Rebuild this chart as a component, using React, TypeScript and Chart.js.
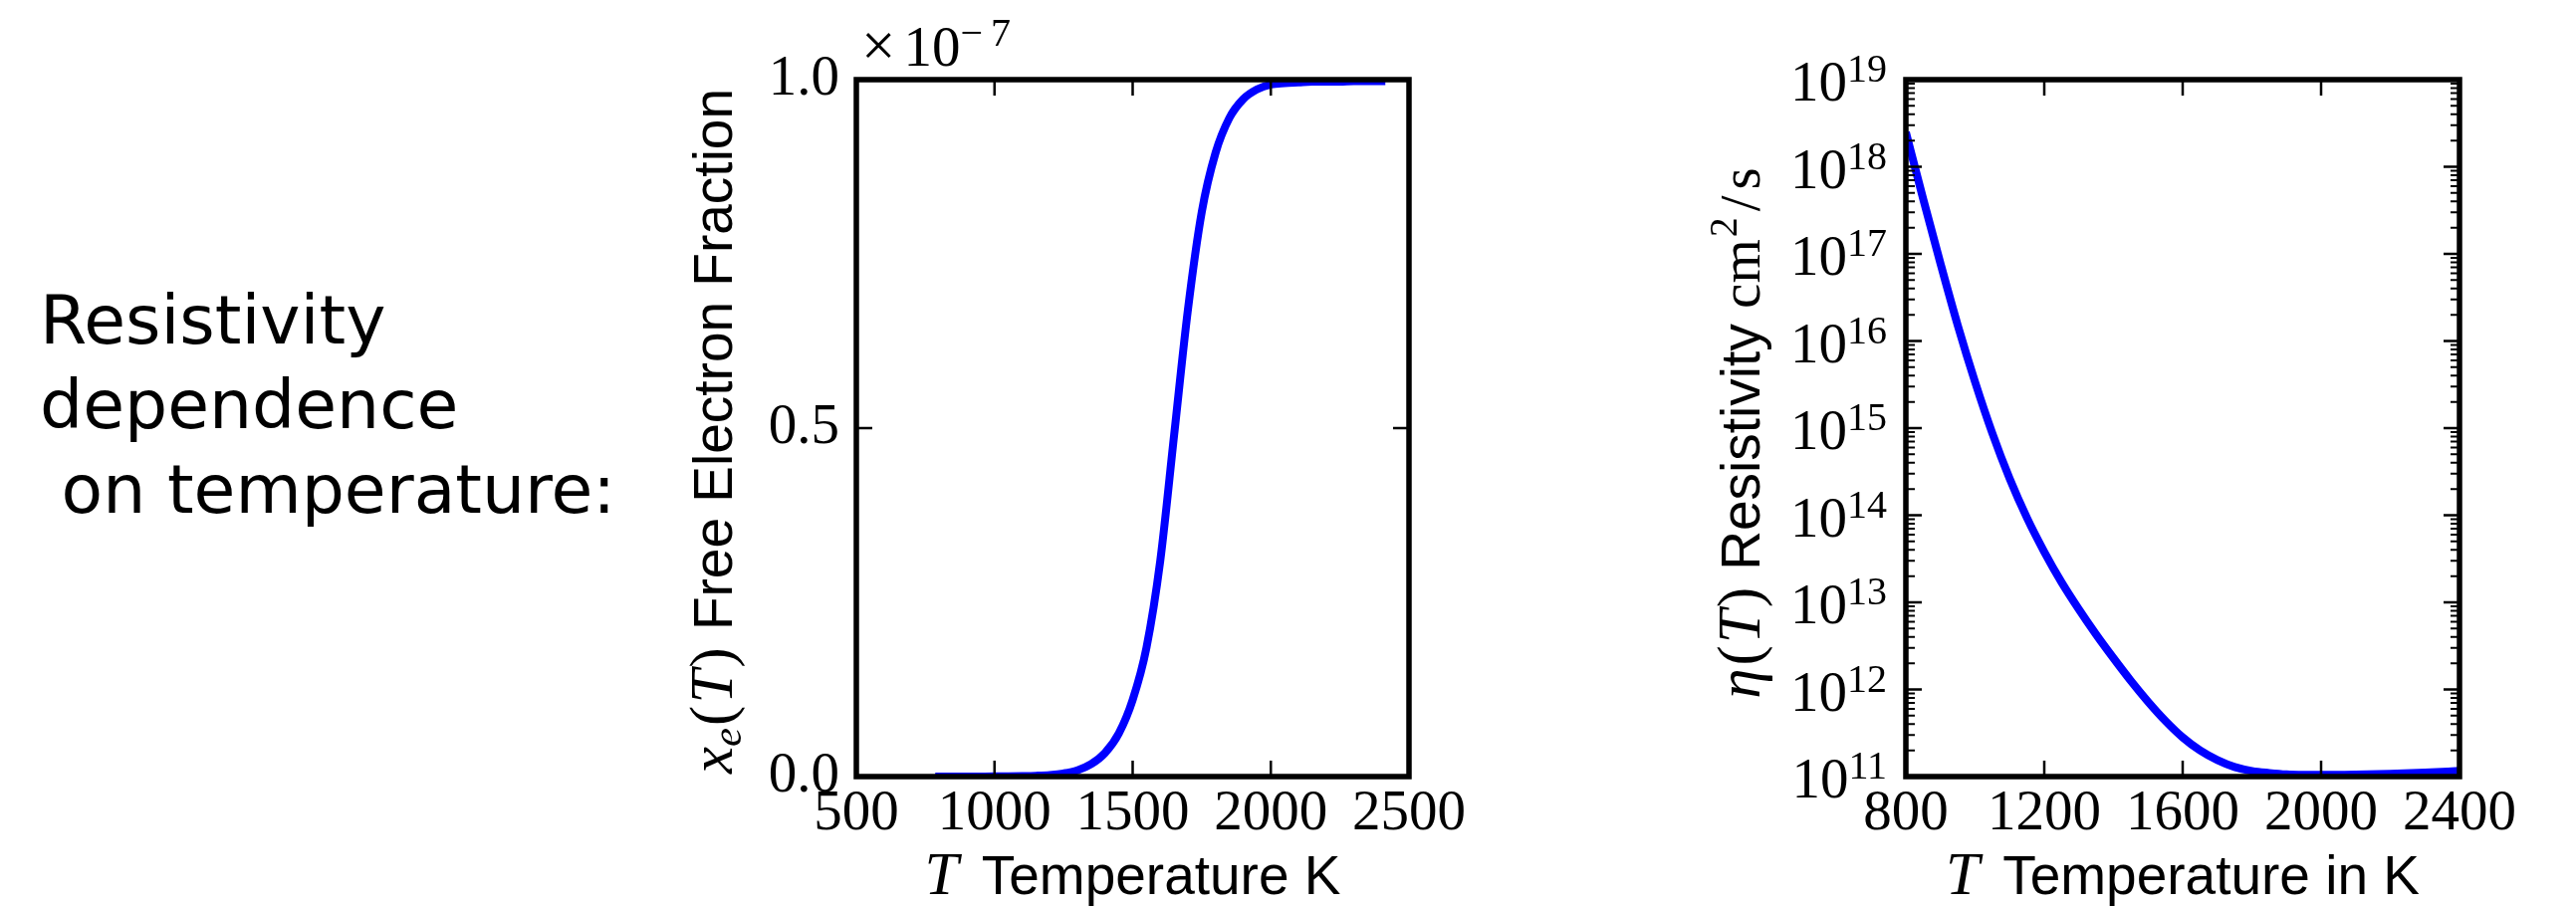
import React, { useEffect, useRef } from "react";
import { Chart, registerables } from "chart.js";

Chart.register(...registerables);

// ---------- data ----------
const temperaturesA = [
  800, 850, 900, 950, 1000, 1050, 1100, 1150, 1200, 1250, 1300, 1350, 1400, 1450, 1500, 1550,
  1600, 1650, 1700, 1750, 1800, 1850, 1900, 1950, 2000, 2050, 2100, 2150, 2200, 2250, 2300, 2350, 2400,
];
// free electron fraction x_e(T), in units of 1e-7
const freeElectronFraction = [
  0.0, 0.0, 0.0, 0.0001, 0.0002, 0.0004, 0.0007, 0.0012, 0.0022, 0.0045, 0.009, 0.018, 0.034, 0.062, 0.11, 0.185,
  0.31, 0.49, 0.67, 0.81, 0.895, 0.945, 0.972, 0.986, 0.993, 0.995, 0.996, 0.997, 0.997, 0.997, 0.998, 0.998, 0.998,
];

const temperaturesB = [
  800, 850, 900, 950, 1000, 1050, 1100, 1150, 1200, 1250, 1300, 1350, 1400, 1450, 1500, 1550,
  1600, 1650, 1700, 1750, 1800, 1850, 1900, 1950, 2000, 2100, 2200, 2300, 2400,
];
// resistivity eta(T) in cm^2/s
const resistivity = [
  2.5e18, 4.27e17, 7.76e16, 1.51e16, 3.39e15, 8.71e14, 2.63e14, 9.33e13, 3.8e13, 1.7e13, 8.32e12, 4.27e12,
  2.29e12, 1.26e12, 7.24e11, 4.37e11, 2.82e11, 2.0e11, 1.55e11, 1.29e11, 1.16e11, 1.1e11, 1.06e11, 1.047e11,
  1.045e11, 1.055e11, 1.075e11, 1.11e11, 1.16e11,
];

const xTicksA = [500, 1000, 1500, 2000, 2500];
const yTicksA = [0.0, 0.5, 1.0];
const offsetExponentA = ["−", "7"];
const xTicksB = [800, 1200, 1600, 2000, 2400];
const yDecadesB = [11, 12, 13, 14, 15, 16, 17, 18, 19];

const sideText = "Resistivity\ndependence\n on temperature:";

// ---------- style ----------
const SERIF = '"Liberation Serif", "DejaVu Serif", serif';
const SANS = '"Liberation Sans", Arial, sans-serif';
const TICK_PX = 57;
const SUP_PX = 40;
const LABEL_PX = 55;
const MATH_PX = 61;
const MAJOR_LEN = 16;
const MINOR_LEN = 9;

type Run = { text: string; font: string; dy?: number; pad?: number; pre?: number };

function runsWidth(ctx: CanvasRenderingContext2D, runs: Run[]) {
  return runs.map((r) => {
    ctx.font = r.font;
    return ctx.measureText(r.text).width + (r.pad || 0) + (r.pre || 0);
  });
}

function drawRuns(ctx: CanvasRenderingContext2D, runs: Run[], x: number, y: number, align: "left" | "center" | "right") {
  const widths = runsWidth(ctx, runs);
  const total = widths.reduce((a, b) => a + b, 0);
  let cx = align === "left" ? x : align === "center" ? x - total / 2 : x - total;
  ctx.textAlign = "left";
  ctx.textBaseline = "alphabetic";
  runs.forEach((r, i) => {
    ctx.font = r.font;
    ctx.fillText(r.text, cx + (r.pre || 0), y + (r.dy || 0));
    cx += widths[i];
  });
}

type FrameCfg = {
  yMinor: number[];
  xTitle: Run[];
  yTitle: Run[];
  yTitleX: number;
  yTitleShift: number;
  xTitleY: number;
  extra?: (chart: any) => void;
};

function framePlugin(cfg: FrameCfg) {
  return {
    id: "mplFrame",
    afterDatasetsDraw(chart: any) {
      const { ctx, chartArea: a, scales } = chart;
      const xs = scales.x;
      const ys = scales.y;
      ctx.save();
      ctx.strokeStyle = "#000";
      ctx.fillStyle = "#000";
      // major ticks, inward on all sides
      ctx.lineWidth = 2.5;
      ctx.beginPath();
      for (const t of xs.ticks) {
        const p = xs.getPixelForValue(t.value);
        ctx.moveTo(p, a.bottom);
        ctx.lineTo(p, a.bottom - MAJOR_LEN);
        ctx.moveTo(p, a.top);
        ctx.lineTo(p, a.top + MAJOR_LEN);
      }
      for (const t of ys.ticks) {
        const p = ys.getPixelForValue(t.value);
        ctx.moveTo(a.left, p);
        ctx.lineTo(a.left + MAJOR_LEN, p);
        ctx.moveTo(a.right, p);
        ctx.lineTo(a.right - MAJOR_LEN, p);
      }
      ctx.stroke();
      // minor ticks
      ctx.lineWidth = 2;
      ctx.beginPath();
      for (const v of cfg.yMinor) {
        const p = ys.getPixelForValue(v);
        ctx.moveTo(a.left, p);
        ctx.lineTo(a.left + MINOR_LEN, p);
        ctx.moveTo(a.right, p);
        ctx.lineTo(a.right - MINOR_LEN, p);
      }
      ctx.stroke();
      // frame
      ctx.lineWidth = 5.5;
      ctx.strokeRect(a.left, a.top, a.right - a.left, a.bottom - a.top);
      // x title
      drawRuns(ctx, cfg.xTitle, (a.left + a.right) / 2, cfg.xTitleY, "center");
      // y title (rotated)
      ctx.save();
      ctx.translate(cfg.yTitleX, (a.top + a.bottom) / 2 + cfg.yTitleShift);
      ctx.rotate(-Math.PI / 2);
      drawRuns(ctx, cfg.yTitle, 0, 0, "center");
      ctx.restore();
      if (cfg.extra) cfg.extra(chart);
      ctx.restore();
    },
  };
}

const tickFont = { family: SERIF, size: TICK_PX };

function FractionChart() {
  const ref = useRef<HTMLCanvasElement | null>(null);
  useEffect(() => {
    const canvas = ref.current!;
    const plugin = framePlugin({
      yMinor: [],
      xTitleY: 898,
      yTitleX: 175,
      yTitleShift: 3,
      xTitle: [
        { text: "T", font: `italic ${MATH_PX}px ${SERIF}`, pad: 8 },
        { text: " Temperature K", font: `${LABEL_PX}px ${SANS}` },
      ],
      yTitle: [
        { text: "x", font: `italic ${MATH_PX}px ${SERIF}` },
        { text: "e", font: `italic 43px ${SERIF}`, dy: 9 },
        { text: "(", font: `${MATH_PX}px ${SERIF}`, pre: 2, pad: 2 },
        { text: "T", font: `italic ${MATH_PX}px ${SERIF}`, pad: 2 },
        { text: ")", font: `${MATH_PX}px ${SERIF}`, pad: 2 },
        { text: " Free Electron Fraction", font: `${LABEL_PX}px ${SANS}` },
      ],
      extra: (chart: any) => {
        const { ctx, chartArea: a } = chart;
        drawRuns(
          ctx,
          [
            { text: "×", font: `${MATH_PX}px ${SERIF}`, pad: 8 },
            { text: "10", font: `${TICK_PX}px ${SERIF}` },
            { text: offsetExponentA[0], font: `${SUP_PX}px ${SERIF}`, dy: -20, pad: 8 },
            { text: offsetExponentA[1], font: `${SUP_PX}px ${SERIF}`, dy: -20 },
          ],
          a.left + 5,
          66,
          "left"
        );
      },
    });
    const chart = new Chart(canvas, {
      type: "line",
      data: {
        datasets: [
          {
            data: temperaturesA.map((t, i) => ({ x: t, y: freeElectronFraction[i] })),
            borderColor: "#0000ff",
            borderWidth: 8,
            pointRadius: 0,
            fill: false,
            cubicInterpolationMode: "monotone",
            borderCapStyle: "square",
          },
        ],
      },
      options: {
        responsive: false,
        animation: false,
        layout: { padding: { left: 0, top: 80, right: 145, bottom: 0 } },
        plugins: { legend: { display: false }, tooltip: { enabled: false } },
        scales: {
          x: {
            type: "linear",
            min: 500,
            max: 2500,
            afterBuildTicks: (s: any) => {
              s.ticks = xTicksA.map((v) => ({ value: v }));
            },
            afterFit: (s: any) => {
              s.height = 130;
            },
            grid: { display: false, drawTicks: false },
            border: { display: false },
            ticks: {
              font: tickFont,
              color: "#000",
              padding: 4,
              maxRotation: 0,
              autoSkip: false,
              callback: (v: any) => String(v),
            },
          },
          y: {
            type: "linear",
            min: 0,
            max: 1,
            afterBuildTicks: (s: any) => {
              s.ticks = yTicksA.map((v) => ({ value: v }));
            },
            afterFit: (s: any) => {
              s.width = 300;
            },
            grid: { display: false, drawTicks: false },
            border: { display: false },
            ticks: {
              font: tickFont,
              color: "#000",
              padding: 17,
              autoSkip: false,
              callback: (v: any) => Number(v).toFixed(1),
            },
          },
        },
      },
      plugins: [plugin],
    } as any);
    return () => chart.destroy();
  }, []);
  return (
    <canvas
      ref={ref}
      width={1000}
      height={910}
      style={{ position: "absolute", left: 560, top: 0, width: 1000, height: 910 }}
    />
  );
}

function ResistivityChart() {
  const ref = useRef<HTMLCanvasElement | null>(null);
  useEffect(() => {
    const canvas = ref.current!;
    const minor: number[] = [];
    for (let k = yDecadesB[0]; k < yDecadesB[yDecadesB.length - 1]; k++) {
      for (let m = 2; m <= 9; m++) minor.push(m * Math.pow(10, k));
    }
    const plugin = framePlugin({
      yMinor: minor,
      xTitleY: 898,
      yTitleX: 167,
      yTitleShift: 5,
      xTitle: [
        { text: "T", font: `italic ${MATH_PX}px ${SERIF}`, pad: 8 },
        { text: " Temperature in K", font: `${LABEL_PX}px ${SANS}` },
      ],
      yTitle: [
        { text: "η", font: `italic ${MATH_PX}px ${SERIF}`, pad: 1 },
        { text: "(", font: `${MATH_PX}px ${SERIF}`, pre: 2, pad: 2 },
        { text: "T", font: `italic ${MATH_PX}px ${SERIF}`, pad: 2 },
        { text: ")", font: `${MATH_PX}px ${SERIF}`, pad: 2 },
        { text: " Resistivity ", font: `${LABEL_PX}px ${SANS}` },
        { text: "cm", font: `${TICK_PX}px ${SERIF}`, pad: 2 },
        { text: "2", font: `${SUP_PX}px ${SERIF}`, dy: -23 },
        { text: "/", font: `${TICK_PX}px ${SERIF}`, pre: 6, pad: 6 },
        { text: "s", font: `${TICK_PX}px ${SERIF}` },
      ],
      extra: (chart: any) => {
        const { ctx, chartArea: a, scales } = chart;
        for (const k of yDecadesB) {
          const p = scales.y.getPixelForValue(Math.pow(10, k));
          drawRuns(
            ctx,
            [
              { text: "10", font: `${TICK_PX}px ${SERIF}` },
              { text: String(k), font: `${SUP_PX}px ${SERIF}`, dy: -19 },
            ],
            a.left - 19,
            p + 21,
            "right"
          );
        }
      },
    });
    const chart = new Chart(canvas, {
      type: "line",
      data: {
        datasets: [
          {
            data: temperaturesB.map((t, i) => ({ x: t, y: resistivity[i] })),
            borderColor: "#0000ff",
            borderWidth: 8,
            pointRadius: 0,
            fill: false,
            cubicInterpolationMode: "monotone",
            borderCapStyle: "butt",
          },
        ],
      },
      options: {
        responsive: false,
        animation: false,
        layout: { padding: { left: 0, top: 80, right: 117, bottom: 0 } },
        plugins: { legend: { display: false }, tooltip: { enabled: false } },
        scales: {
          x: {
            type: "linear",
            min: 800,
            max: 2400,
            afterBuildTicks: (s: any) => {
              s.ticks = xTicksB.map((v) => ({ value: v }));
            },
            afterFit: (s: any) => {
              s.height = 130;
            },
            grid: { display: false, drawTicks: false },
            border: { display: false },
            ticks: {
              font: tickFont,
              color: "#000",
              padding: 4,
              maxRotation: 0,
              autoSkip: false,
              callback: (v: any) => String(v),
            },
          },
          y: {
            type: "logarithmic",
            min: 1e11,
            max: 1e19,
            afterBuildTicks: (s: any) => {
              s.ticks = yDecadesB.map((k) => ({ value: Math.pow(10, k), major: true }));
            },
            afterFit: (s: any) => {
              s.width = 314;
            },
            grid: { display: false, drawTicks: false },
            border: { display: false },
            ticks: { display: false },
          },
        },
      },
      plugins: [plugin],
    } as any);
    return () => chart.destroy();
  }, []);
  return (
    <canvas
      ref={ref}
      width={987}
      height={910}
      style={{ position: "absolute", left: 1600, top: 0, width: 987, height: 910 }}
    />
  );
}

export default function App() {
  return (
    <div
      style={{
        position: "absolute",
        left: 0,
        top: 0,
        width: 2587,
        height: 910,
        background: "#fff",
        overflow: "hidden",
      }}
    >
      <div
        style={{
          position: "absolute",
          left: 40,
          top: 279,
          fontFamily: '"DejaVu Sans", sans-serif',
          fontSize: 68,
          lineHeight: "85px",
          whiteSpace: "pre",
          color: "#000",
        }}
      >
        {sideText}
      </div>
      <FractionChart />
      <ResistivityChart />
    </div>
  );
}
